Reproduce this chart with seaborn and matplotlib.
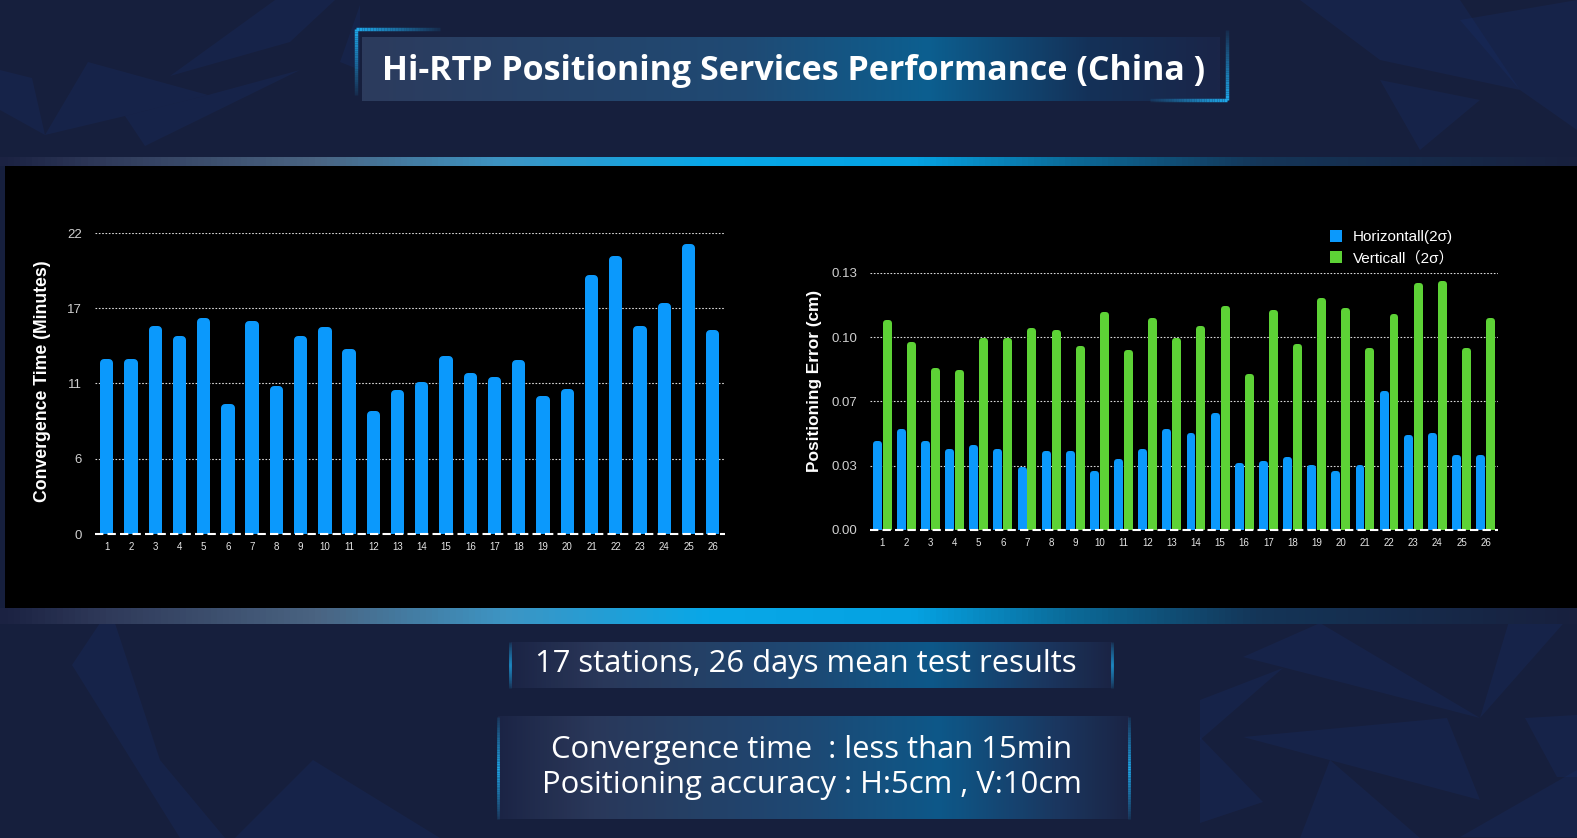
import numpy as np
import pandas as pd
import seaborn as sns
import matplotlib.pyplot as plt
from matplotlib.colors import LinearSegmentedColormap
from matplotlib.patches import Polygon, Rectangle, Patch
from matplotlib.collections import LineCollection

# ---- data ----
days = [str(i) for i in range(1, 27)]
conv_time = [12.8, 12.8, 15.2, 14.5, 15.8, 9.5, 15.6, 10.8, 14.5, 15.1, 13.5, 9.0, 10.5,
             11.1, 13.0, 11.8, 11.5, 12.7, 10.1, 10.6, 18.9, 20.3, 15.2, 16.9, 21.2, 14.9]
horiz_err = [0.045, 0.051, 0.045, 0.041, 0.043, 0.041, 0.032, 0.040, 0.040, 0.030, 0.036, 0.041, 0.051,
             0.049, 0.059, 0.034, 0.035, 0.037, 0.033, 0.030, 0.033, 0.070, 0.048, 0.049, 0.038, 0.038]
vert_err = [0.106, 0.095, 0.082, 0.081, 0.097, 0.097, 0.102, 0.101, 0.093, 0.110, 0.091, 0.107, 0.097,
            0.103, 0.113, 0.079, 0.111, 0.094, 0.117, 0.112, 0.092, 0.109, 0.125, 0.126, 0.092, 0.107]
series_names = ["Horizontall(2σ)", "Verticall（2σ）"]
conv_ticks = ["0", "6", "11", "17", "22"]
err_ticks = ["0.00", "0.03", "0.07", "0.10", "0.13"]

title = "Hi-RTP Positioning Services Performance (China )"
note1 = "17 stations, 26 days mean test results"
note2 = "Convergence time  : less than 15min"
note3 = "Positioning accuracy : H:5cm , V:10cm"

BLUE = "#0b99fc"
GREEN = "#5dd236"
NAVY = "#161f3d"
W, H = 1577, 838

sns.set_theme(style="dark")
plt.rcParams["font.family"] = ["Liberation Sans", "Noto Sans CJK SC", "DejaVu Sans"]

fig = plt.figure(figsize=(W / 100, H / 100), dpi=100)
fig.patch.set_facecolor(NAVY)

# ---- background layer in pixel coordinates ----
bg = fig.add_axes([0, 0, 1, 1], zorder=0)
bg.set_xlim(0, W)
bg.set_ylim(H, 0)
bg.axis("off")
bg.set_facecolor(NAVY)

shapes = [
    [(0, 70), (32, 78), (45, 135), (0, 110)],
    [(45, 135), (88, 62), (208, 95), (125, 116)],
    [(125, 116), (208, 95), (300, 70), (145, 146)],
    [(170, 76), (290, 42), (335, 0), (275, 0)],
    [(340, 62), (360, 5), (360, 70)],
    [(1300, 0), (1460, 0), (1520, 90), (1380, 60)],
    [(1460, 20), (1577, 0), (1577, 130), (1520, 90)],
    [(1380, 80), (1480, 100), (1420, 150)],
    [(72, 665), (110, 608), (160, 760), (225, 838), (180, 838)],
    [(235, 838), (313, 760), (440, 838)],
    [(1243, 737), (1447, 718), (1480, 800)],
    [(1243, 657), (1320, 623), (1480, 718)],
    [(1200, 700), (1283, 668), (1200, 740)],
    [(1513, 608), (1577, 608), (1480, 718)],
    [(1525, 718), (1577, 715), (1577, 777), (1557, 777)],
    [(1460, 837), (1577, 770), (1577, 837)],
    [(1200, 737), (1263, 802), (1200, 823)],
    [(1330, 760), (1420, 838), (1300, 838)],
]
for pts in shapes:
    bg.add_patch(Polygon(pts, closed=True, facecolor="#173374", alpha=0.22, lw=0))


def hgrad(x0, x1, y0, y1, stops, alpha=1.0):
    cmap = LinearSegmentedColormap.from_list("g", stops)
    g = np.linspace(0, 1, 512)[np.newaxis, :]
    bg.imshow(g, extent=[x0, x1, y1, y0], cmap=cmap, aspect="auto", alpha=alpha,
              interpolation="bilinear", zorder=2)


def fade_line(x0, y0, x1, y1, a0, a1, color="#1ea8ea", lw=2.5):
    n = 30
    xs = np.linspace(x0, x1, n + 1)
    ys = np.linspace(y0, y1, n + 1)
    segs = [[(xs[i], ys[i]), (xs[i + 1], ys[i + 1])] for i in range(n)]
    alphas = np.linspace(a0, a1, n)
    cols = [(*plt.matplotlib.colors.to_rgb(color), a) for a in alphas]
    bg.add_collection(LineCollection(segs, colors=cols, linewidths=lw, zorder=4))


band = [(0, "#1b2242"), (0.06, "#2e3858"), (0.2, "#4a6482"), (0.32, "#3d95c4"),
        (0.45, "#08a8e8"), (0.58, "#05a2e2"), (0.68, "#0b6a98"), (0.8, "#143557"), (1, "#18203e")]
hgrad(0, W, 157, 166, band)
hgrad(0, W, 608, 624, band)
bg.add_patch(Rectangle((5, 166), W - 5, 442, facecolor="black", lw=0, zorder=3))

# title banner
hgrad(362, 1220, 37, 101, [(0, "#2c3b5d"), (0.45, "#1f4a74"), (0.66, "#0c5f90"),
                           (0.85, "#143158"), (1, "#1a2548")])
fade_line(356, 29, 356, 95, 1, 0.1)
fade_line(356, 29, 440, 29, 1, 0.1)
fade_line(1227, 100, 1227, 30, 1, 0.1)
fade_line(1227, 100, 1150, 100, 1, 0.1)
bg.text(794, 71, title, color="white", fontsize=24.5, fontweight="bold",
        family=["Open Sans", "DejaVu Sans"], ha="center", va="center", zorder=5)

# notes
box_stops = [(0, "#1c2546"), (0.15, "#2c3a5c"), (0.5, "#1e4c78"), (0.7, "#0d5c8e"),
             (0.88, "#1b3a64"), (1, "#1c2546")]
hgrad(511, 1112, 642, 688, box_stops, alpha=0.95)
hgrad(498, 1129, 717, 819, box_stops, alpha=0.95)
for x, y0, y1 in [(510, 642, 688), (1112, 642, 688), (498, 717, 819), (1129, 717, 819)]:
    mid = (y0 + y1) / 2
    fade_line(x, mid, x, y0, 1, 0.15, lw=2)
    fade_line(x, mid, x, y1, 1, 0.15, lw=2)
note_font = ["Open Sans", "DejaVu Sans"]
bg.text(806, 664, note1, color="white", fontsize=22.3, family=note_font, ha="center", va="center", zorder=5)
bg.text(812, 750, note2, color="white", fontsize=22.3, family=note_font, ha="center", va="center", zorder=5)
bg.text(812, 785, note3, color="white", fontsize=22.3, family=note_font, ha="center", va="center", zorder=5)


def round_tops(ax, r_px):
    x0, x1 = ax.get_xlim()
    y0, y1 = ax.get_ylim()
    dx = (x1 - x0) / ax.bbox.width * r_px
    dy = (y1 - y0) / ax.bbox.height * r_px
    for p in ax.patches:
        p.set_x(p.get_x() + dx)
        p.set_width(p.get_width() - 2 * dx)
        p.set_height(p.get_height() - dy)
        p.set_edgecolor(p.get_facecolor())
        p.set_linewidth(2 * r_px * 72 / fig.dpi)
        p.set_joinstyle("round")


def style_axis(ax, ticks, labels):
    ax.set_facecolor("none")
    for s in ax.spines.values():
        s.set_visible(False)
    ax.set_yticks(ticks)
    ax.set_yticklabels(labels)
    ax.grid(False)
    for t in ticks[1:]:
        ax.axhline(t, color="#d8d8d8", lw=0.8, ls=(0, (1.5, 1.5)), zorder=0)
    ax.axhline(0, color="white", lw=1.5, ls=(0, (4, 2)), zorder=5, clip_on=False)
    ax.tick_params(axis="y", length=0, pad=9, labelsize=9.5, labelcolor="#d0d0d0")
    ax.tick_params(axis="x", length=0, pad=6, labelsize=7, labelcolor="#e6e6e6")
    ax.set_xlabel("")
    ax.set_ylabel("")


# ---- left chart: convergence time ----
ax1 = fig.add_axes([94.6 / W, (H - 534) / H, 630.2 / W, 301 / H], zorder=6)
sns.barplot(x=days, y=conv_time, order=days, color=BLUE, width=0.55, saturation=1, ax=ax1)
ax1.set_xlim(-0.5, 25.5)
ax1.set_ylim(0, 22)
style_axis(ax1, np.linspace(0, 22, 5), conv_ticks)
round_tops(ax1, 4)
bg.text(43, 381, "Convergence Time (Minutes)", rotation=90, color="white", fontsize=12.7,
        fontweight="bold", ha="center", va="center", zorder=7)

# ---- right chart: positioning error ----
err_df = pd.DataFrame({
    "day": days * 2,
    "type": [series_names[0]] * len(days) + [series_names[1]] * len(days),
    "err": horiz_err + vert_err,
})
ax2 = fig.add_axes([870.1 / W, (H - 530) / H, 627.6 / W, 257.3 / H], zorder=6)
sns.barplot(data=err_df, x="day", y="err", hue="type", order=days, hue_order=series_names,
            palette=[BLUE, GREEN], width=0.82, gap=0.1, saturation=1, legend=False, ax=ax2)
ax2.set_xlim(-0.5, 25.5)
ax2.set_ylim(0, 0.13)
style_axis(ax2, np.linspace(0, 0.13, 5), err_ticks)
round_tops(ax2, 3)
bg.text(815, 381, "Positioning Error (cm)", rotation=90, color="white", fontsize=12.4,
        fontweight="bold", ha="center", va="center", zorder=7)

handles = [Patch(facecolor=BLUE, lw=0), Patch(facecolor=GREEN, lw=0)]
leg = ax2.legend(handles, series_names, loc="upper left", bbox_to_anchor=(1330, 230),
                 bbox_transform=bg.transData, frameon=False, fontsize=11,
                 handlelength=0.8, handleheight=0.8, handletextpad=0.7,
                 labelspacing=0.45, borderpad=0, borderaxespad=0)
for t in leg.get_texts():
    t.set_color("white")

fig.savefig("out.png", dpi=100, facecolor=fig.get_facecolor())
